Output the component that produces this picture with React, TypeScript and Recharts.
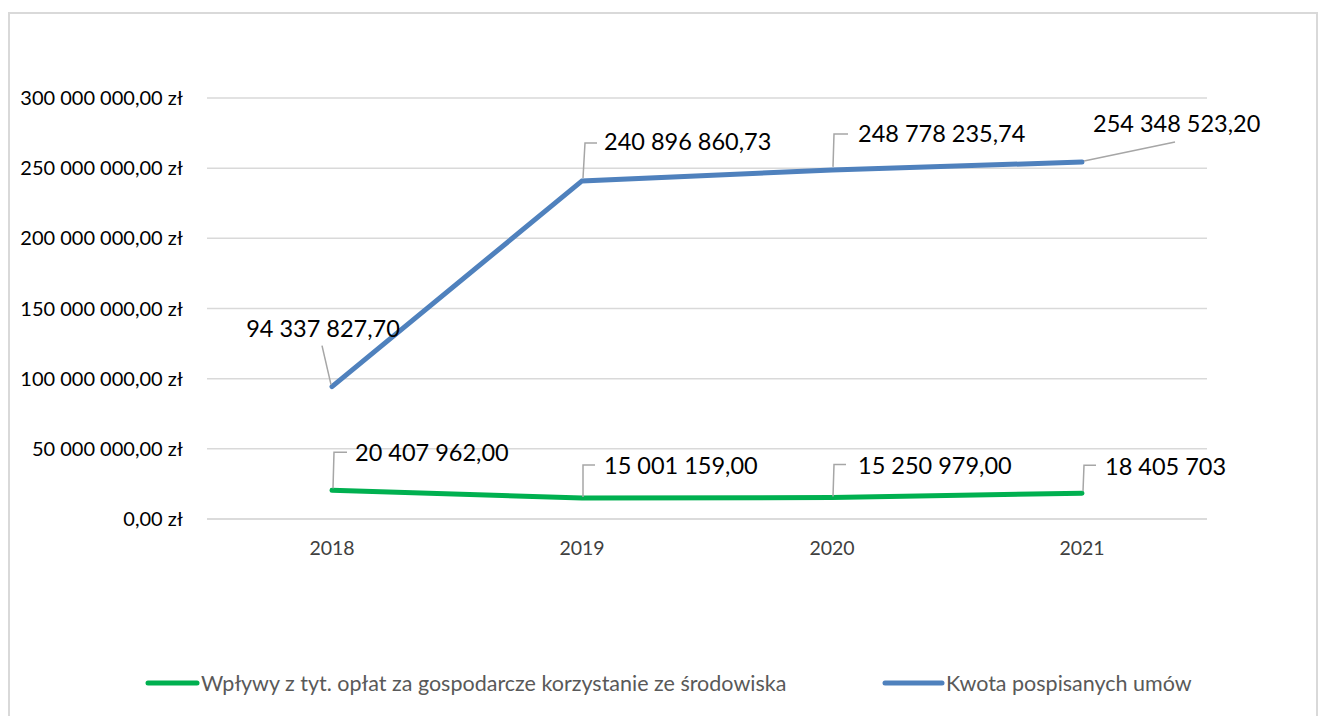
import { LineChart, Line, XAxis, YAxis, CartesianGrid, Legend, LabelList } from 'recharts';

const years = ['2018', '2019', '2020', '2021'];
const wplywy = [20407962.0, 15001159.0, 15250979.0, 18405703];
const umowy = [94337827.7, 240896860.73, 248778235.74, 254348523.2];
const wplywyLabels = ['20 407 962,00', '15 001 159,00', '15 250 979,00', '18 405 703'];
const umowyLabels = ['94 337 827,70', '240 896 860,73', '248 778 235,74', '254 348 523,20'];
const yTicks = [0, 50000000, 100000000, 150000000, 200000000, 250000000, 300000000];

const GREEN = '#00b050';
const BLUE = '#4f81bd';
const FONT = 'Lato, "Open Sans", sans-serif';

// label placement relative to the point: text anchor + leader polyline
type LabelPos = { tx: number; ty: number; anchor: 'start' | 'middle'; leader: [number, number][] };

const umowyPos: LabelPos[] = [
  { tx: -9, ty: -58, anchor: 'middle', leader: [[-10, -41], [-1, -2]] },
  { tx: 22, ty: -39, anchor: 'start', leader: [[1, -3], [3, -38], [15, -38]] },
  { tx: 26, ty: -36, anchor: 'start', leader: [[1, -3], [2, -36], [16, -36]] },
  { tx: 11, ty: -39, anchor: 'start', leader: [[2, -1], [93, -20]] },
];
const wplywyPos: LabelPos[] = [
  { tx: 23, ty: -38, anchor: 'start', leader: [[1, -2], [2, -38], [15, -38]] },
  { tx: 22, ty: -32, anchor: 'start', leader: [[1, -1], [1, -33], [13, -33]] },
  { tx: 26, ty: -32, anchor: 'start', leader: [[1, -1], [2, -33], [14, -33]] },
  { tx: 23, ty: -27, anchor: 'start', leader: [[1, -2], [2, -28], [14, -28]] },
];

const data = years.map((year, i) => ({
  year,
  wplywy: wplywy[i],
  umowy: umowy[i],
}));

const formatZl = (v: number) => String(v).replace(/\B(?=(\d{3})+(?!\d))/g, ' ') + ',00 zł';

const makeLabel = (texts: string[], pos: LabelPos[]) => (props: any) => {
  const { x, y, index } = props;
  const p = pos[index];
  if (!p) return null;
  const pts = p.leader.map(([dx, dy]) => `${x + dx},${y + dy}`).join(' ');
  return (
    <g>
      <polyline points={pts} fill="none" stroke="#a6a6a6" strokeWidth={1.5} />
      <text
        x={x + p.tx}
        y={y + p.ty}
        dy="0.36em"
        textAnchor={p.anchor}
        fontSize={23.5}
        fontFamily={FONT}
        fill="#000"
      >
        {texts[index]}
      </text>
    </g>
  );
};

const legendItems = [
  { label: 'Wpływy z tyt. opłat za gospodarcze korzystanie ze środowiska', color: GREEN, x: 140, len: 49 },
  { label: 'Kwota pospisanych umów', color: BLUE, x: 877, len: 57 },
];

const renderLegend = () => (
  <svg width={1312} height={30} style={{ display: 'block' }}>
    {legendItems.map((it) => (
      <g key={it.label}>
        <line x1={it.x} y1={15} x2={it.x + it.len} y2={15} stroke={it.color} strokeWidth={5} strokeLinecap="round" />
        <text x={it.x + it.len + 4} y={15} dy="0.36em" fontSize={21.5} fontFamily={FONT} fill="#595959">
          {it.label}
        </text>
      </g>
    ))}
  </svg>
);

export default function App() {
  return (
    <div style={{ position: 'relative', width: 1312, height: 708 }}>
      <div
        style={{
          position: 'absolute',
          left: 0,
          top: 4,
          width: 1310,
          height: 720,
          border: '2px solid #d9d9d9',
          boxSizing: 'border-box',
        }}
      />
      <LineChart
        width={1312}
        height={700}
        data={data}
        margin={{ top: 90, right: 113, left: 0, bottom: 129 }}
        style={{ position: 'absolute', left: 0, top: 0 }}
      >
        <CartesianGrid vertical={false} stroke="#d9d9d9" strokeWidth={1.5} />
        <XAxis
          dataKey="year"
          padding={{ left: 125, right: 125 }}
          axisLine={{ stroke: '#d9d9d9', strokeWidth: 1.5 }}
          tickLine={false}
          tickSize={0}
          tickMargin={22}
          height={30}
          tick={{ fontSize: 19.5, fontFamily: FONT, fill: '#404040' }}
        />
        <YAxis
          width={199}
          domain={[0, 300000000]}
          ticks={yTicks}
          axisLine={false}
          tickLine={false}
          tickSize={0}
          tickMargin={24}
          tickFormatter={formatZl}
          tick={{ fontSize: 20, fontFamily: FONT, fill: '#000' }}
        />
        <Legend
          verticalAlign="bottom"
          height={30}
          content={renderLegend}
          wrapperStyle={{ left: 0, bottom: 'auto', top: 660 }}
        />
        <Line
          dataKey="wplywy"
          name="Wpływy z tyt. opłat za gospodarcze korzystanie ze środowiska"
          stroke={GREEN}
          strokeWidth={5}
          dot={false}
          strokeLinecap="round"
          isAnimationActive={false}
        >
          <LabelList dataKey="wplywy" content={makeLabel(wplywyLabels, wplywyPos)} />
        </Line>
        <Line
          dataKey="umowy"
          name="Kwota pospisanych umów"
          stroke={BLUE}
          strokeWidth={5}
          dot={false}
          strokeLinecap="round"
          isAnimationActive={false}
        >
          <LabelList dataKey="umowy" content={makeLabel(umowyLabels, umowyPos)} />
        </Line>
      </LineChart>
    </div>
  );
}
